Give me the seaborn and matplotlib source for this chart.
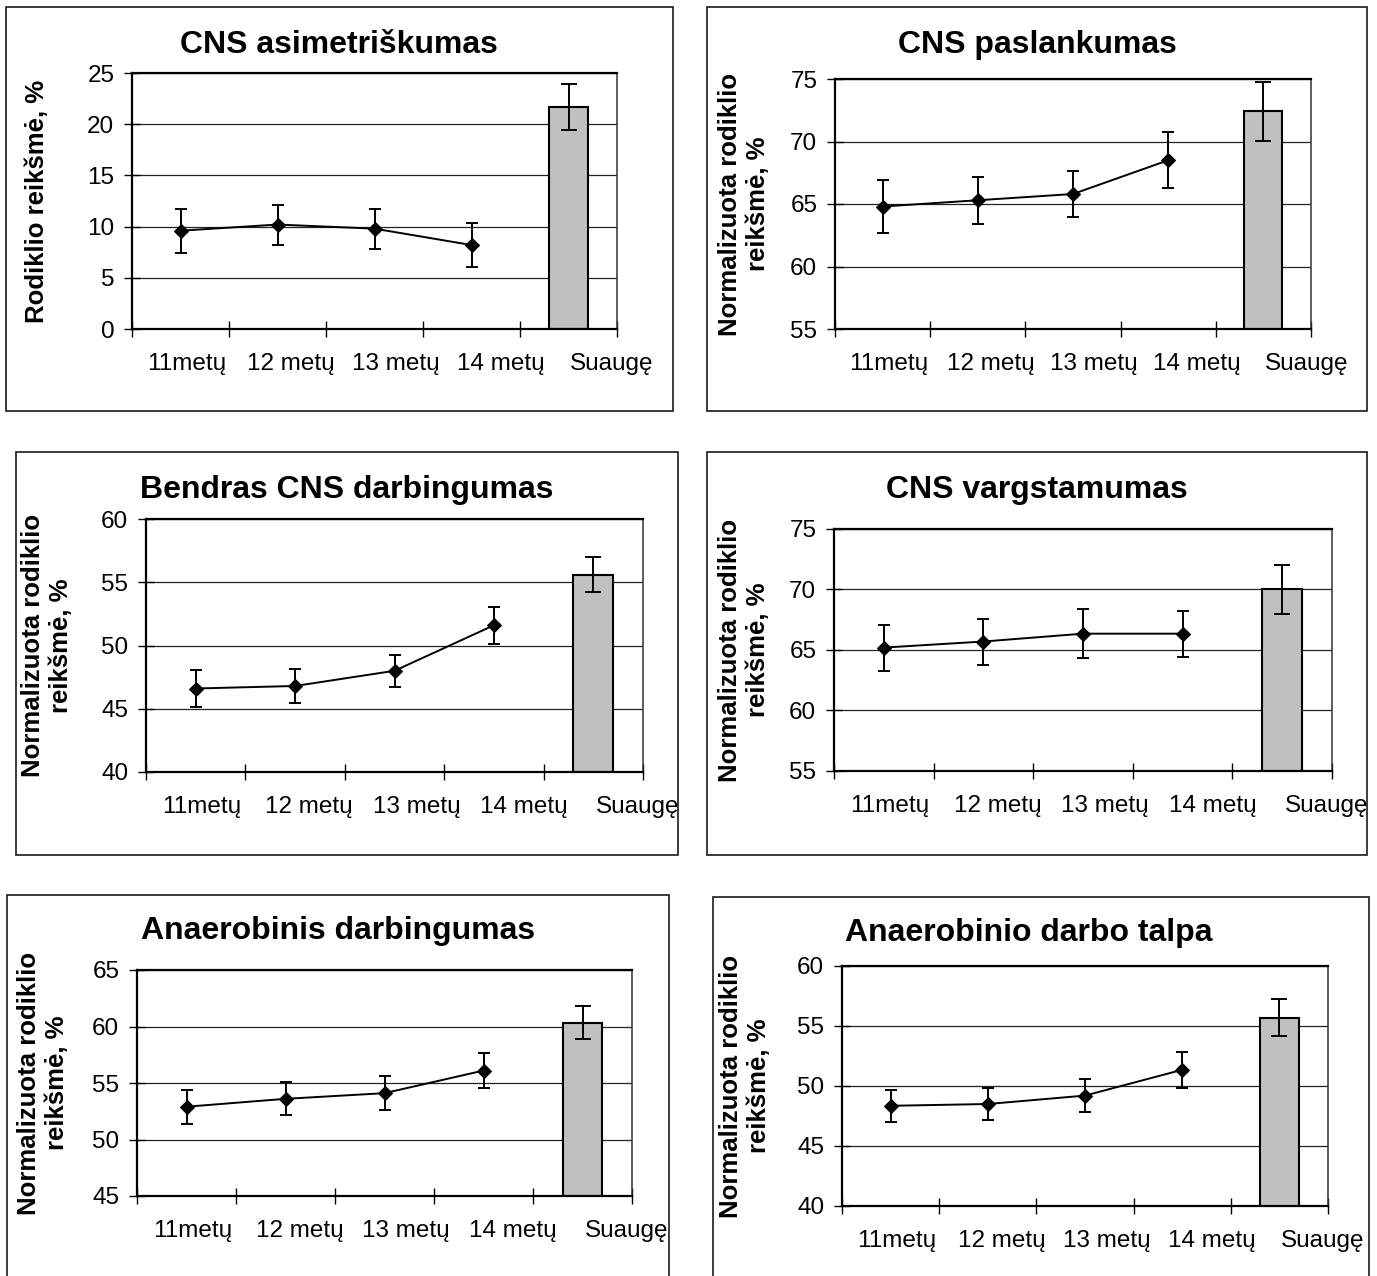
import numpy as np
import pandas as pd
import matplotlib
matplotlib.use("Agg")
import matplotlib.pyplot as plt
from matplotlib.patches import Rectangle
import seaborn as sns

# ---- data -------------------------------------------------------------
categories = ["11metų", "12 metų", "13 metų", "14 metų", "Suaugę"]

titles = [
    "CNS asimetriškumas",
    "CNS paslankumas",
    "Bendras CNS darbingumas",
    "CNS vargstamumas",
    "Anaerobinis darbingumas",
    "Anaerobinio darbo talpa",
]
ylabels = [
    "Rodiklio reikšmė, %",
    "Normalizuota rodiklio\nreikšmė, %",
    "Normalizuota rodiklio\nreikšmė, %",
    "Normalizuota rodiklio\nreikšmė, %",
    "Normalizuota rodiklio\nreikšmė, %",
    "Normalizuota rodiklio\nreikšmė, %",
]

asym_mean = [9.6, 10.2, 9.8, 8.2]
asym_err = [2.15, 1.95, 1.95, 2.15]
asym_adult, asym_adult_err = 21.7, 2.25

mob_mean = [64.8, 65.3, 65.8, 68.5]
mob_err = [2.1, 1.9, 1.85, 2.25]
mob_adult, mob_adult_err = 72.4, 2.35

work_mean = [46.6, 46.8, 48.0, 51.6]
work_err = [1.45, 1.35, 1.25, 1.45]
work_adult, work_adult_err = 55.6, 1.4

fat_mean = [65.2, 65.7, 66.35, 66.35]
fat_err = [1.9, 1.9, 2.0, 1.9]
fat_adult, fat_adult_err = 70.0, 2.0

anw_mean = [52.9, 53.6, 54.1, 56.1]
anw_err = [1.5, 1.45, 1.5, 1.55]
anw_adult, anw_adult_err = 60.35, 1.42

anc_mean = [48.35, 48.5, 49.2, 51.35]
anc_err = [1.32, 1.32, 1.4, 1.5]
anc_adult, anc_adult_err = 55.7, 1.52

ylims = [(0, 25), (55, 75), (40, 60), (55, 75), (45, 65), (40, 60)]

series = [
    (asym_mean, asym_err, asym_adult, asym_adult_err),
    (mob_mean, mob_err, mob_adult, mob_adult_err),
    (work_mean, work_err, work_adult, work_adult_err),
    (fat_mean, fat_err, fat_adult, fat_adult_err),
    (anw_mean, anw_err, anw_adult, anw_adult_err),
    (anc_mean, anc_err, anc_adult, anc_adult_err),
]

# ---- layout (pixels on a 1377 x 1276 canvas) ---------------------------
W, H = 1377, 1276
axes_px = [  # left, right, top, bottom
    (132, 617, 73, 329),
    (835, 1311, 79, 329),
    (146, 643, 519, 772),
    (834, 1332, 529, 771),
    (137, 632, 970, 1196),
    (842, 1328, 966, 1206),
]
frames_px = [  # left, right, top, bottom
    (6, 673, 7, 411),
    (707, 1367, 7, 411),
    (16, 678, 452, 855),
    (707, 1367, 452, 855),
    (7, 669, 895, 1285),
    (713, 1369, 897, 1285),
]
title_xy = [(339, 45), (1037, 45), (347, 490), (1037, 490), (338, 931), (1029, 933)]
ylabel_x = [37, 744, 47, 744, 43, 745]

TICK_FS = 17.5
sns.set_theme(style="white")
plt.rcParams["font.family"] = ["Liberation Sans", "DejaVu Sans"]

fig = plt.figure(figsize=(W / 100, H / 100), dpi=100)

label_shift = [0.06, 0.14, 0.22, 0.30, 0.45]

for i in range(6):
    mean, err, adult, adult_err = series[i]
    l, r, t, b = axes_px[i]
    ax = fig.add_axes([l / W, 1 - b / H, (r - l) / W, (b - t) / H])

    # adult group as a single grey bar in the last category slot
    sns.barplot(x=[categories[4]], y=[adult], order=categories, ax=ax,
                color="#C0C0C0", saturation=1, width=0.4,
                edgecolor="black", linewidth=1.5, errorbar=None, zorder=2)
    ax.errorbar([4], [adult], yerr=[adult_err], fmt="none", ecolor="black",
                elinewidth=1.4, capsize=5.5, capthick=1.4, zorder=3)

    # age groups as a connected line with diamond markers
    pos = np.arange(4)
    ax.errorbar(pos, mean, yerr=err, fmt="none", ecolor="black",
                elinewidth=1.4, capsize=4.5, capthick=1.4, zorder=3)
    sns.lineplot(x=pos, y=mean, ax=ax, color="black", lw=1.4, marker="D",
                 markersize=7, markeredgecolor="black", sort=False, zorder=4)

    ax.set_xlim(-0.5, 4.5)
    y0, y1 = ylims[i]
    ax.set_ylim(y0, y1)
    yt = np.arange(y0, y1 + 0.1, 5)
    ax.set_yticks(yt)
    ax.set_yticklabels([f"{v:g}" for v in yt], fontsize=TICK_FS, color="black")
    ax.yaxis.grid(True, color="#222222", lw=0.9)
    ax.xaxis.grid(False)
    ax.set_axisbelow(True)

    ax.set_xticks([k + label_shift[k] for k in range(5)])
    ax.set_xticklabels(categories, fontsize=TICK_FS, color="black")
    ax.set_xticks(np.arange(-0.5, 5.0, 1.0), minor=True)
    ax.tick_params(axis="x", which="major", length=0, pad=17)
    ax.tick_params(axis="x", which="minor", direction="inout", length=11.5,
                   width=1, color="black", bottom=True)
    ax.tick_params(axis="y", direction="inout", length=11.5, width=1,
                   color="black", left=True, pad=7)
    ax.set_xlabel("")
    ax.set_ylabel("")
    for side in ["left", "bottom", "top"]:
        ax.spines[side].set_color("black")
        ax.spines[side].set_linewidth(1.6)
    ax.spines["right"].set_color("#333333")
    ax.spines["right"].set_linewidth(1.1)

    # panel frame, title and y label
    fl, fr, ft, fb = frames_px[i]
    fig.add_artist(Rectangle((fl / W, 1 - fb / H), (fr - fl) / W, (fb - ft) / H,
                             transform=fig.transFigure, fill=False,
                             edgecolor="#1a1a1a", lw=1.2))
    tx, ty = title_xy[i]
    fig.text(tx / W, 1 - ty / H, titles[i], ha="center", va="center",
             fontsize=23, fontweight="bold", color="black")
    fig.text(ylabel_x[i] / W, 1 - ((t + b) / 2) / H, ylabels[i], rotation=90,
             ha="center", va="center", multialignment="center",
             fontsize=18.5, fontweight="bold", color="black", linespacing=1.2)

fig.savefig("out.png", dpi=100, facecolor="white")
